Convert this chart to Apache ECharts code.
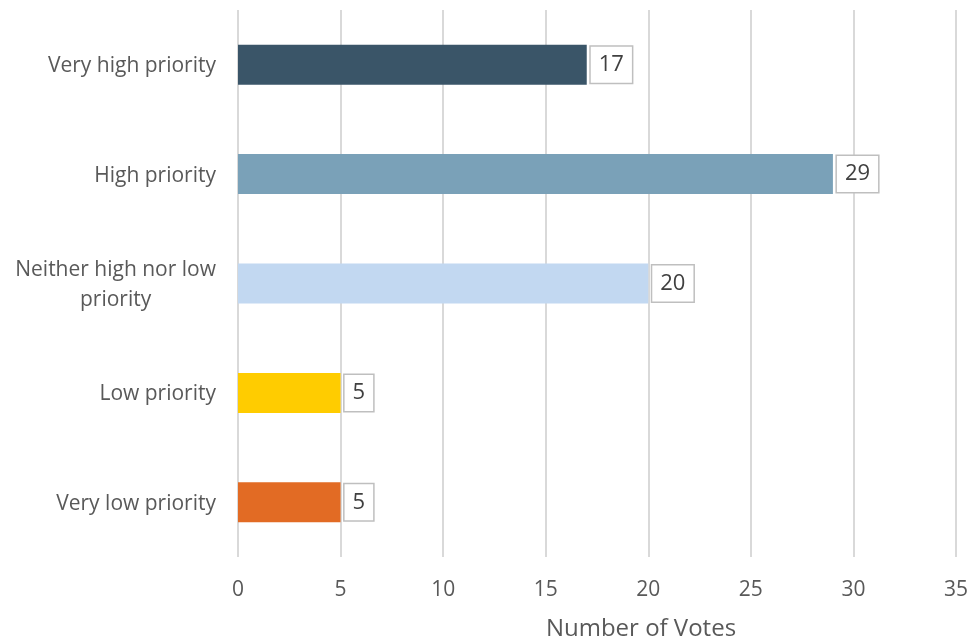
<!DOCTYPE html>
<html>
<head>
<meta charset="utf-8">
<script src="https://cdn.jsdelivr.net/npm/echarts@6/dist/echarts.min.js"></script>
<style>html,body{margin:0;padding:0;background:#fff}#c{width:972px;height:641px}</style>
</head>
<body>
<div id="c"></div>
<script>
const categories = ["Very high priority", "High priority", "Neither high nor low priority", "Low priority", "Very low priority"];
const votes = [17, 29, 20, 5, 5];
const barColors = ["#3a5568", "#7aa1b8", "#c2d8f1", "#ffcc00", "#e26b24"];
const xTicks = [0, 5, 10, 15, 20, 25, 30, 35];

const chart = echarts.init(document.getElementById('c'));
const FONT = "'Open Sans', 'Noto Sans', sans-serif";
chart.setOption({
  animation: false,
  grid: { left: 238, right: 16, top: 10, bottom: 84, containLabel: false, outerBoundsMode: 'none' },
  xAxis: {
    type: 'value', min: xTicks[0], max: xTicks[xTicks.length - 1], interval: 5,
    name: 'Number of Votes', nameLocation: 'middle', nameGap: 60,
    nameTextStyle: { fontSize: 24, color: '#595959', fontFamily: FONT, padding: [0, 0, 0, 88] },
    axisLine: { show: false }, axisTick: { show: false },
    axisLabel: { fontSize: 21, color: '#595959', margin: 23, fontFamily: FONT },
    splitLine: { show: true, lineStyle: { color: '#d9d9d9', width: 2 } }
  },
  yAxis: {
    type: 'category', data: categories, inverse: true,
    axisLine: { show: false }, axisTick: { show: false },
    axisLabel: {
      fontSize: 21, color: '#595959', margin: 22, lineHeight: 30, align: 'right', fontFamily: FONT,
      padding: [3, 0, 0, 0],
      formatter: v => v === 'Neither high nor low priority' ? '{a|Neither high nor low}\n{b|priority}' : v,
      rich: {
        a: { fontSize: 21, color: '#595959', fontFamily: FONT, lineHeight: 30 },
        b: { fontSize: 21, color: '#595959', fontFamily: FONT, lineHeight: 30, align: 'center' }
      }
    }
  },
  series: [{
    type: 'bar', barWidth: 40,
    data: votes.map((v, i) => ({ value: v, itemStyle: { color: barColors[i] } })),
    label: {
      show: true, position: 'right', distance: 4,
      fontSize: 22, color: '#404040', fontFamily: FONT,
      backgroundColor: '#fff', borderColor: '#bfbfbf', borderWidth: 1.5,
      padding: [8, 8, 6, 8], lineHeight: 22
    }
  }]
});
</script>
</body>
</html>
